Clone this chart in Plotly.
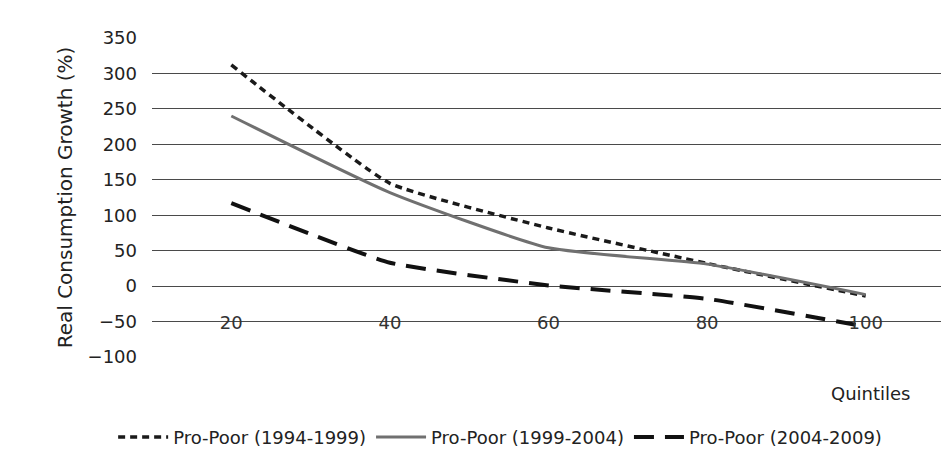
import plotly.graph_objects as go

quintiles = [20, 40, 60, 80, 100]
tick_labels = ["20", "40", "60", "80", "100"]
s_1994_1999 = [312, 145, 82, 32, -14]
s_1999_2004 = [240, 132, 54, 31, -12]
s_2004_2009 = [117, 33, 1, -18, -57]
y_ticks = [-100, -50, 0, 50, 100, 150, 200, 250, 300, 350]

FONT = "DejaVu Sans"

fig = go.Figure()
fig.add_trace(go.Scatter(
    x=quintiles, y=s_1994_1999, mode="lines", name="Pro-Poor (1994-1999)",
    line=dict(color="#1a1a1a", width=3.5, dash="7px,5px", shape="spline", smoothing=0.4)))
fig.add_trace(go.Scatter(
    x=quintiles, y=s_1999_2004, mode="lines", name="Pro-Poor (1999-2004)",
    line=dict(color="#707070", width=3, shape="spline", smoothing=0.5)))
fig.add_trace(go.Scatter(
    x=quintiles, y=s_2004_2009, mode="lines", name="Pro-Poor (2004-2009)",
    line=dict(color="#111111", width=4, dash="20px,11px", shape="spline", smoothing=0.4)))

fig.update_layout(
    width=941, height=448,
    margin=dict(l=144, r=4, t=30, b=99),
    paper_bgcolor="white", plot_bgcolor="white",
    font=dict(family=FONT, color="#222"),
    showlegend=True,
    legend=dict(orientation="h", xref="container", yref="container",
                x=0.523, y=0.042, xanchor="center", yanchor="middle",
                font=dict(size=18, family=FONT, color="#222"),
                itemwidth=50, traceorder="normal"),
    xaxis=dict(range=[10, 110], tickvals=quintiles, ticktext=tick_labels,
               showgrid=False, zeroline=False, showline=False, ticks="",
               anchor="free", position=0.147,
               tickfont=dict(size=18, family=FONT, color="#333")),
    yaxis=dict(range=[-100, 350], tickvals=y_ticks, showgrid=True,
               gridcolor="#4a4a4a", gridwidth=1.2, zeroline=False, showline=False,
               ticks="", ticklabelstandoff=14,
               tickfont=dict(size=18, family=FONT, color="#222"),
               title=dict(text="Real Consumption Growth (%)", standoff=9,
                          font=dict(size=20, family=FONT, color="#222"))),
)
fig.add_annotation(text="Quintiles", xref="paper", yref="paper",
                   x=0.907, y=-0.113, xanchor="center", yanchor="middle",
                   showarrow=False, font=dict(size=18, family=FONT, color="#222"))

fig.write_html("out.html")
